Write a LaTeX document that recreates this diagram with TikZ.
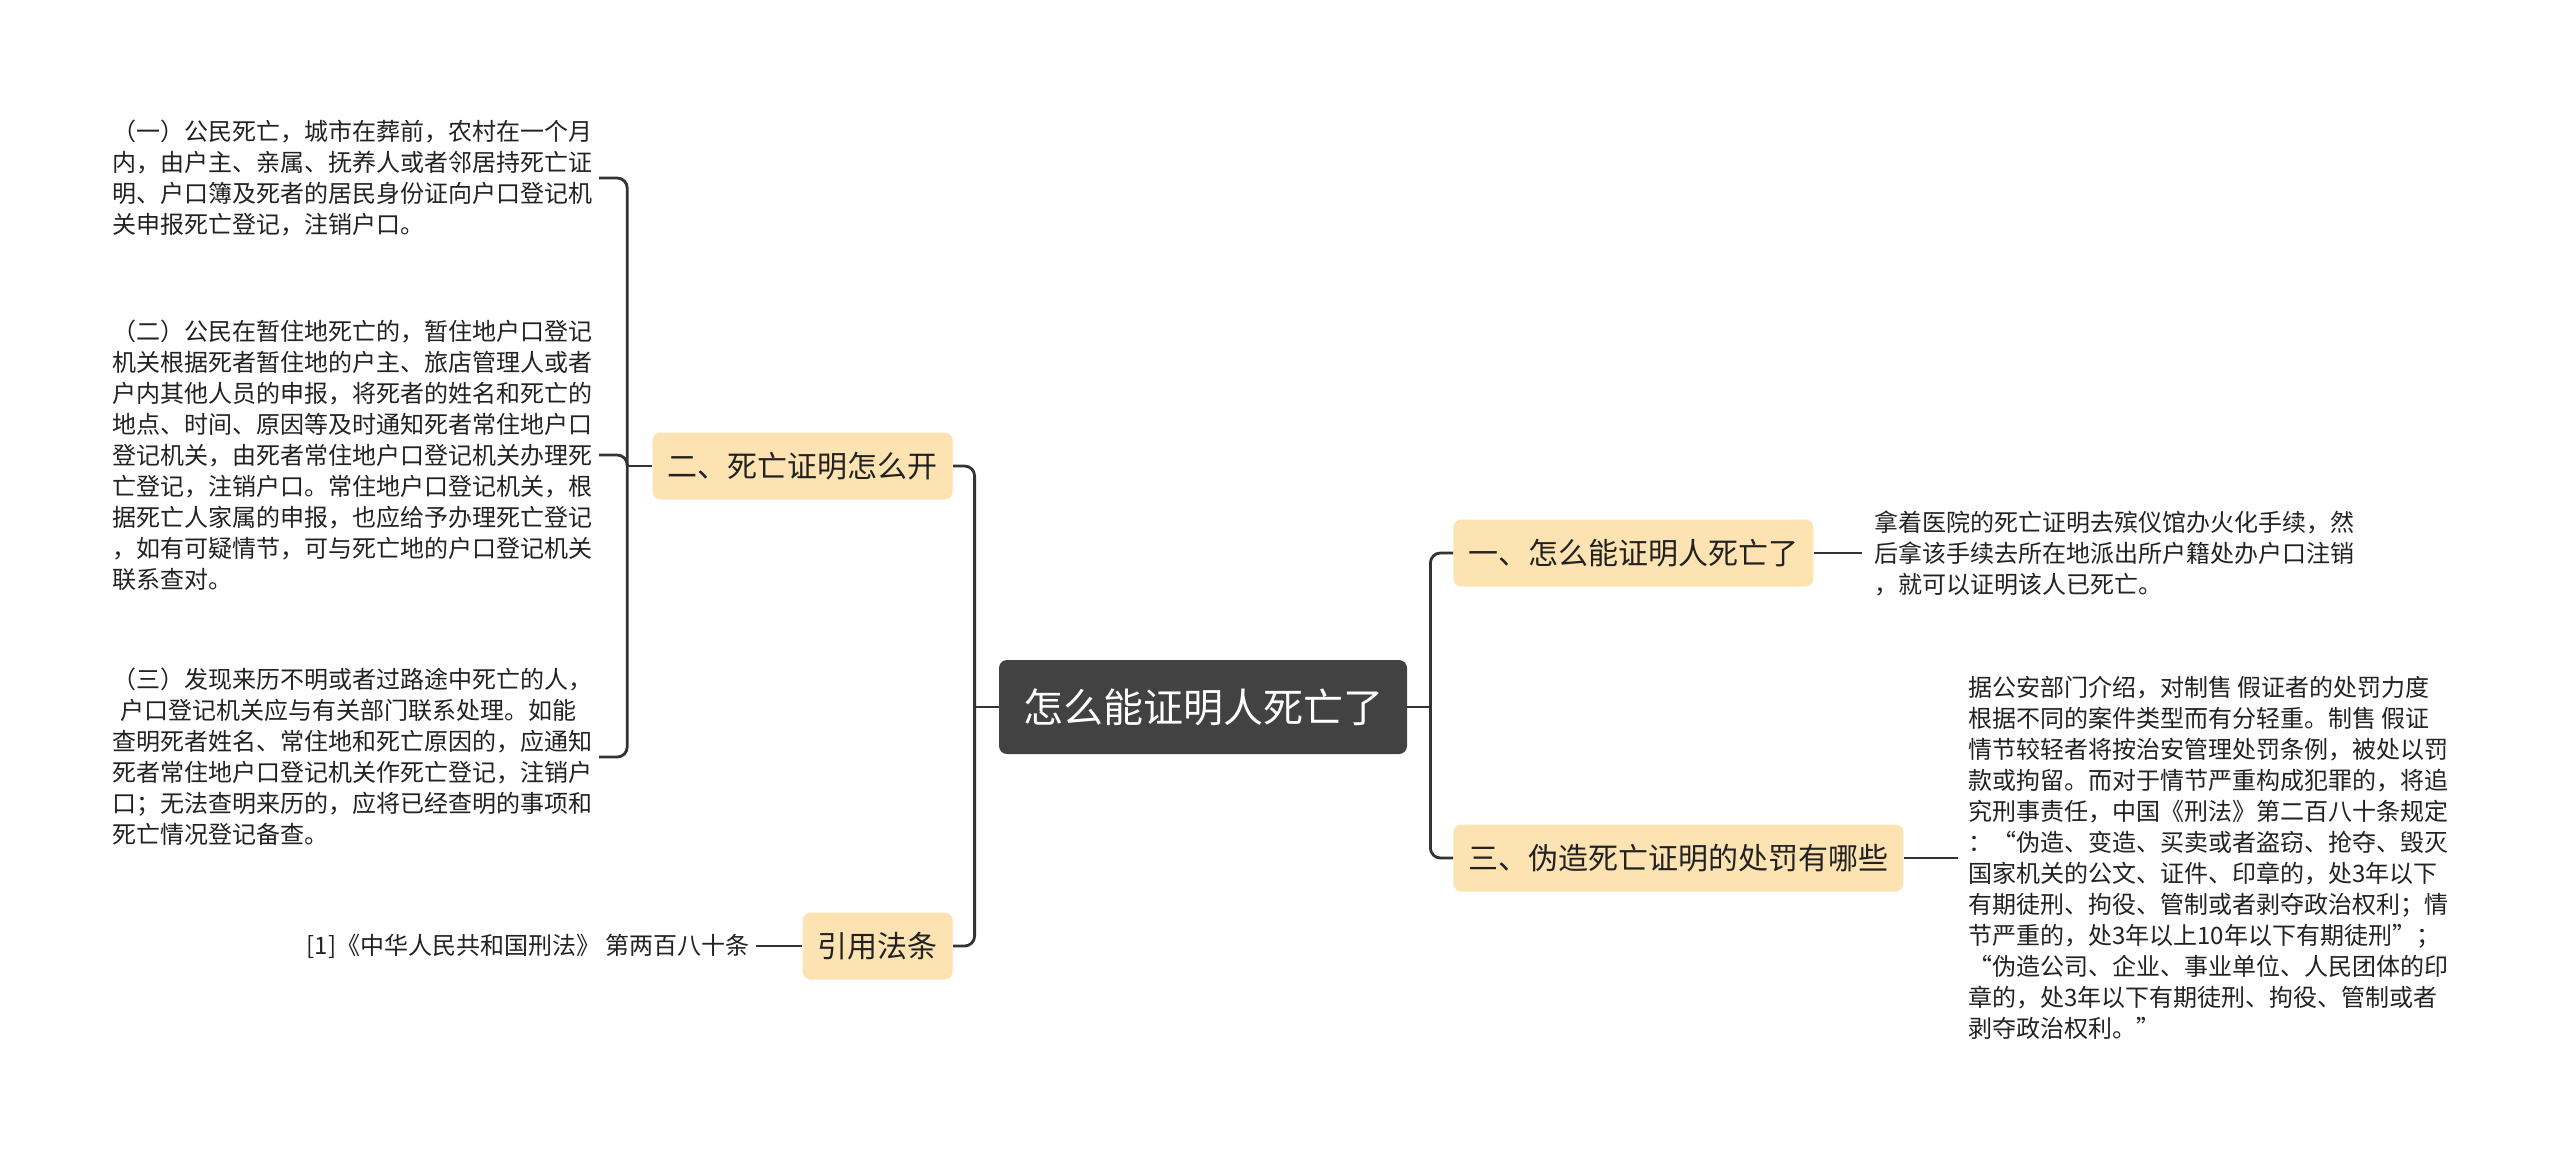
\documentclass[tikz,border=0pt]{standalone}
\usepackage{fontspec}
\usepackage{xcolor}
\usepackage{tikz}
\usetikzlibrary{positioning}
\newfontfamily\cjk{Noto Sans CJK SC}
\definecolor{rootgray}{HTML}{424242}
\definecolor{subfill}{HTML}{FCE3B1}
\definecolor{linegray}{HTML}{333333}
\definecolor{textgray}{HTML}{222222}

\begin{document}
\begin{tikzpicture}[
  x=0.5pt, y=-0.5pt,
  root/.style={fill=rootgray, rounded corners=4pt, text=white, font=\cjk\fontsize{20}{24}\selectfont, minimum width=204pt, minimum height=47pt, inner sep=0pt},
  sub/.style={fill=subfill, rounded corners=4pt, text=textgray, font=\cjk\fontsize{15}{18}\selectfont, minimum height=33.5pt, inner xsep=7.5pt, inner ysep=0pt},
  leaf/.style={align=left, text=textgray, font=\cjk\fontsize{12}{15.5}\selectfont, inner sep=3pt},
  conn/.style={draw=linegray, line width=1.4pt, rounded corners=5pt}
]
\useasboundingbox (0,0) rectangle (2560,1157);
\fill[white] (0,0) rectangle (2560,1157);

\node[root] (root) at (1203,707) {怎么能证明人死亡了};
\node[sub, anchor=east] (n2) at (953,466) {二、死亡证明怎么开};
\node[sub, anchor=east] (n4) at (953,946) {引用法条};
\node[sub, anchor=west] (n1) at (1453,553) {一、怎么能证明人死亡了};
\node[sub, anchor=west] (n3) at (1453,858) {三、伪造死亡证明的处罚有哪些};

\node[leaf, anchor=east] (t1) at (599,178) {（一）公民死亡，城市在葬前，农村在一个月\\内，由户主、亲属、抚养人或者邻居持死亡证\\明、户口簿及死者的居民身份证向户口登记机\\关申报死亡登记，注销户口。};
\node[leaf, anchor=east] (t2) at (599,455) {（二）公民在暂住地死亡的，暂住地户口登记\\机关根据死者暂住地的户主、旅店管理人或者\\户内其他人员的申报，将死者的姓名和死亡的\\地点、时间、原因等及时通知死者常住地户口\\登记机关，由死者常住地户口登记机关办理死\\亡登记，注销户口。常住地户口登记机关，根\\据死亡人家属的申报，也应给予办理死亡登记\\，如有可疑情节，可与死亡地的户口登记机关\\联系查对。};
\node[leaf, anchor=east] (t3) at (599,757) {（三）发现来历不明或者过路途中死亡的人，\\\hspace{4pt}户口登记机关应与有关部门联系处理。如能\\查明死者姓名、常住地和死亡原因的，应通知\\死者常住地户口登记机关作死亡登记，注销户\\口；无法查明来历的，应将已经查明的事项和\\死亡情况登记备查。};
\node[leaf, left=23pt of n4] (cite) {[1]《中华人民共和国刑法》 第两百八十条};
\node[leaf, right=27pt of n1] (r1) {拿着医院的死亡证明去殡仪馆办火化手续，然\\后拿该手续去所在地派出所户籍处办户口注销\\，就可以证明该人已死亡。};
\node[leaf, right=29pt of n3] (r2) {据公安部门介绍，对制售 假证者的处罚力度\\根据不同的案件类型而有分轻重。制售 假证\\情节较轻者将按治安管理处罚条例，被处以罚\\款或拘留。而对于情节严重构成犯罪的，将追\\究刑事责任，中国《刑法》第二百八十条规定\\：“伪造、变造、买卖或者盗窃、抢夺、毁灭\\国家机关的公文、证件、印章的，处3年以下\\有期徒刑、拘役、管制或者剥夺政治权利；情\\节严重的，处3年以上10年以下有期徒刑”；\\“伪造公司、企业、事业单位、人民团体的印\\章的，处3年以下有期徒刑、拘役、管制或者\\剥夺政治权利。”};

\coordinate[left=12pt of root] (lj);
\coordinate[right=11.5pt of root] (rj);
\coordinate[left=12.5pt of n2] (lj2);

\draw[conn] (root.west) -- (lj);
\draw[conn] (lj) |- (n2.east);
\draw[conn] (lj) |- (n4.east);
\draw[conn] (root.east) -- (rj);
\draw[conn] (rj) |- (n1.west);
\draw[conn] (rj) |- (n3.west);
\draw[conn] (n2.west) -- (lj2);
\draw[conn] (lj2) |- (t1.east);
\draw[conn] (lj2) |- (t2.east);
\draw[conn] (lj2) |- (t3.east);
\draw[conn] (n4.west) -- (cite.east);
\draw[conn] (n1.east) -- ([xshift=-3pt]r1.west);
\draw[conn] (n3.east) -- ([xshift=-2pt]r2.west);
\end{tikzpicture}
\end{document}
